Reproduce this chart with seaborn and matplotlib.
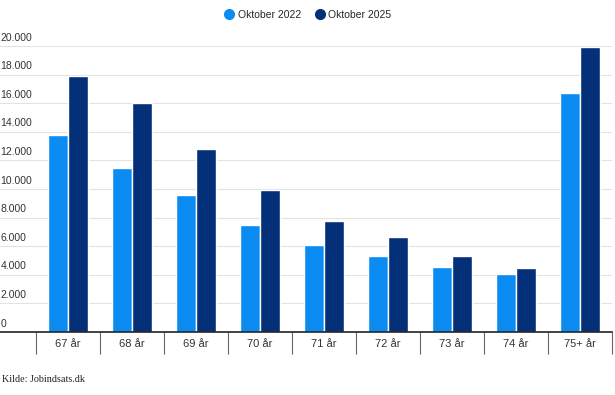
import matplotlib
matplotlib.use("Agg")
import matplotlib.pyplot as plt
from matplotlib.lines import Line2D
import seaborn as sns
import numpy as np
import pandas as pd

categories = ["67 år", "68 år", "69 år", "70 år", "71 år", "72 år", "73 år", "74 år", "75+ år"]
okt_2022 = [13750, 11500, 9560, 7510, 6100, 5330, 4560, 4070, 16680]
okt_2025 = [17900, 15980, 12770, 9900, 7770, 6670, 5310, 4470, 19950]
series_names = ["Oktober 2022", "Oktober 2025"]
y_ticks = [0, 2000, 4000, 6000, 8000, 10000, 12000, 14000, 16000, 18000, 20000]
source = "Kilde: Jobindsats.dk"

colors = ["#0b8cf3", "#04307a"]

df = pd.DataFrame({
    "kategori": categories * 2,
    "serie": [series_names[0]] * len(categories) + [series_names[1]] * len(categories),
    "antal": okt_2022 + okt_2025,
})

sns.set_theme(style="white")
plt.rcParams["font.family"] = ["Liberation Sans", "DejaVu Sans"]

fig = plt.figure(figsize=(6.15, 3.95), dpi=100)
ax = fig.add_axes([0, 1 - 332 / 395, 612 / 615, (332 - 46) / 395])

sns.barplot(data=df, x="kategori", y="antal", hue="serie", order=categories,
            hue_order=series_names, palette=colors, width=0.62, gap=0.03,
            saturation=1, ax=ax, legend=False, errorbar=None)

ax.set_xlim(-0.5 - 36 / 64, len(categories) - 0.5)
ax.set_ylim(0, 20000)
ax.set_xlabel("")
ax.set_ylabel("")

# gridlines
for v in y_ticks[1:]:
    ax.axhline(v, color="#e3e3e3", lw=0.8, zorder=0)
ax.set_yticks([])

# y labels above gridlines, left-aligned
for v in y_ticks:
    lab = f"{v:,}".replace(",", ".")
    ax.annotate(lab, xy=(0, v), xycoords=("axes fraction", "data"),
                xytext=(0.5, 2.5), textcoords="offset points",
                ha="left", va="bottom", fontsize=7.5, color="#333333")

# x axis ticks: dividers at category boundaries, labels at centers
ax.set_xticks(np.arange(-0.5, len(categories)), [""] * (len(categories) + 1))
ax.set_xticks(np.arange(len(categories)), categories, minor=True)
ax.tick_params(axis="x", which="major", length=16, width=0.8, color="#666666", direction="out", bottom=True)
ax.tick_params(axis="x", which="minor", length=0, pad=5, labelsize=8, labelcolor="#333333")

for s in ["top", "right", "left"]:
    ax.spines[s].set_visible(False)
ax.spines["bottom"].set_color("#222222")
ax.spines["bottom"].set_linewidth(1.2)
ax.spines["bottom"].set_zorder(5)

handles = [Line2D([0], [0], marker="o", linestyle="none", markersize=7,
                  markerfacecolor=c, markeredgecolor=c) for c in colors]
fig.legend(handles, series_names, loc="center", bbox_to_anchor=(0.5, 1 - 14.5 / 395),
           ncol=2, frameon=False, fontsize=7.5, handletextpad=0.3, columnspacing=1.3,
           handlelength=1.0)

fig.text(2 / 615, 1 - 380 / 395, source, family=["Liberation Serif", "DejaVu Serif"],
         fontsize=7.3, color="#222222", ha="left", va="center")

fig.savefig("out.png", dpi=100)
